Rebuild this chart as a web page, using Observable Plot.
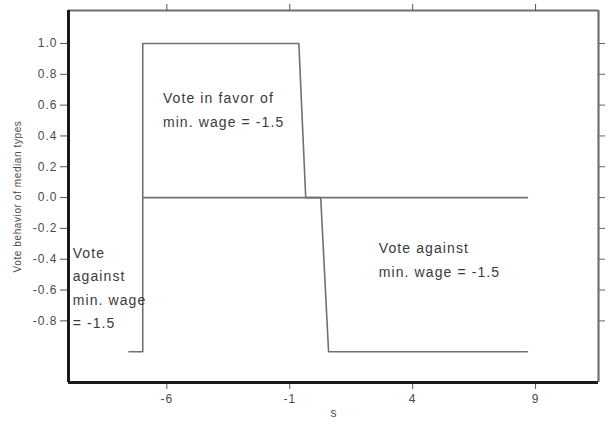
<!DOCTYPE html>
<html>
<head>
<meta charset="utf-8">
<script src="https://cdn.jsdelivr.net/npm/d3@7"></script>
<script src="https://cdn.jsdelivr.net/npm/@observablehq/plot@0.6"></script>
<style>
  html, body { margin: 0; padding: 0; background: #fff; }
  #chart svg { display: block; }
</style>
</head>
<body>
<div id="chart"></div>
<script>
// Scale extents and ticks
const xDomain = [-10, 11.56];
const yDomain = [-1.2, 1.214];
const xTicks = [-6, -1, 4, 9];
const yTicks = [1.0, 0.8, 0.6, 0.4, 0.2, 0.0, -0.2, -0.4, -0.6, -0.8];

// Vote behavior of the median type as a function of s
const voteS = [-7.54, -6.98, -6.98, -0.63, -0.35, 0.26, 0.58, 8.67];
const voteV = [-1, -1, 1, 1, 0, 0, -1, -1];

// Zero reference line
const zeroS = [-6.98, 8.67];
const zeroV = [0, 0];

// Region annotations (anchored at the middle of each text block)
const noteText = [
  "Vote in favor of\nmin. wage = -1.5",
  "Vote against\nmin. wage = -1.5",
  "Vote\nagainst\nmin. wage\n= -1.5"
];
const noteS = [-6.16, 2.62, -9.83];
const noteV = [0.584, -0.39, -0.571];

const vote = voteS.map((s, i) => ({s, v: voteV[i]}));
const zero = zeroS.map((s, i) => ({s, v: zeroV[i]}));
const notes = noteText.map((t, i) => ({t, s: noteS[i], v: noteV[i]}));

const plot = Plot.plot({
  width: 612,
  height: 424,
  marginLeft: 68,
  marginRight: 14,
  marginTop: 10,
  marginBottom: 42,
  style: {fontFamily: "'Liberation Sans', Arial, sans-serif", fontSize: "12px", background: "#fff"},
  x: {domain: xDomain},
  y: {domain: yDomain},
  marks: [
    // frame: light top/right, heavy left/bottom
    Plot.ruleY([yDomain[1]], {stroke: "#707070", strokeWidth: 2.2}),
    Plot.ruleX([xDomain[1]], {stroke: "#707070", strokeWidth: 2.2}),
    Plot.axisX(xTicks, {anchor: "top", tickSize: 7, tickFormat: () => "", label: null, stroke: "#555"}),
    Plot.axisY(yTicks, {anchor: "right", tickSize: 6, tickFormat: () => "", label: null, stroke: "#666"}),
    Plot.axisX(xTicks, {
      anchor: "bottom", tickSize: 7, tickPadding: 5, stroke: "#555", fill: "#4a4a4a",
      tickFormat: d => String(d),
      label: "s", labelAnchor: "center", labelOffset: 34
    }),
    Plot.axisY(yTicks, {
      anchor: "left", tickSize: 8, tickPadding: 3, stroke: "#555", fill: "#4a4a4a",
      tickFormat: d => d.toFixed(1),
      label: "Vote behavior of median types", labelAnchor: "center", labelOffset: 55
    }),
    Plot.ruleX([xDomain[0]], {stroke: "#1a1a1a", strokeWidth: 3}),
    Plot.ruleY([yDomain[0]], {stroke: "#1a1a1a", strokeWidth: 3}),
    // data
    Plot.line(zero, {x: "s", y: "v", stroke: "#707070", strokeWidth: 1.6}),
    Plot.line(vote, {x: "s", y: "v", stroke: "#707070", strokeWidth: 1.6}),
    Plot.text(notes, {
      x: "s", y: "v", text: "t", textAnchor: "start", lineAnchor: "middle",
      lineHeight: 1.68, fontSize: 14, fill: "#3a3a3a"
    })
  ]
});

document.getElementById("chart").appendChild(plot);

// typography tweaks
const svg = d3.select(plot);
svg.selectAll('g[aria-label="x-axis tick label"] text, g[aria-label="y-axis tick label"] text')
  .style("letter-spacing", "1px");
svg.selectAll('g[aria-label="text"] text').style("letter-spacing", "1.1px");
svg.selectAll('g[aria-label="y-axis label"] text, g[aria-label="x-axis label"] text')
  .each(function() {
    // plain axis titles, without direction arrows
    const t = d3.select(this);
    t.text(t.text().replace(/\s*[→↑←↓]\s*/g, "").trim());
  })
  .attr("fill", "#4a4a4a");
svg.selectAll('g[aria-label="y-axis label"] text').style("font-size", "10px").style("letter-spacing", "0.6px");
</script>
</body>
</html>
